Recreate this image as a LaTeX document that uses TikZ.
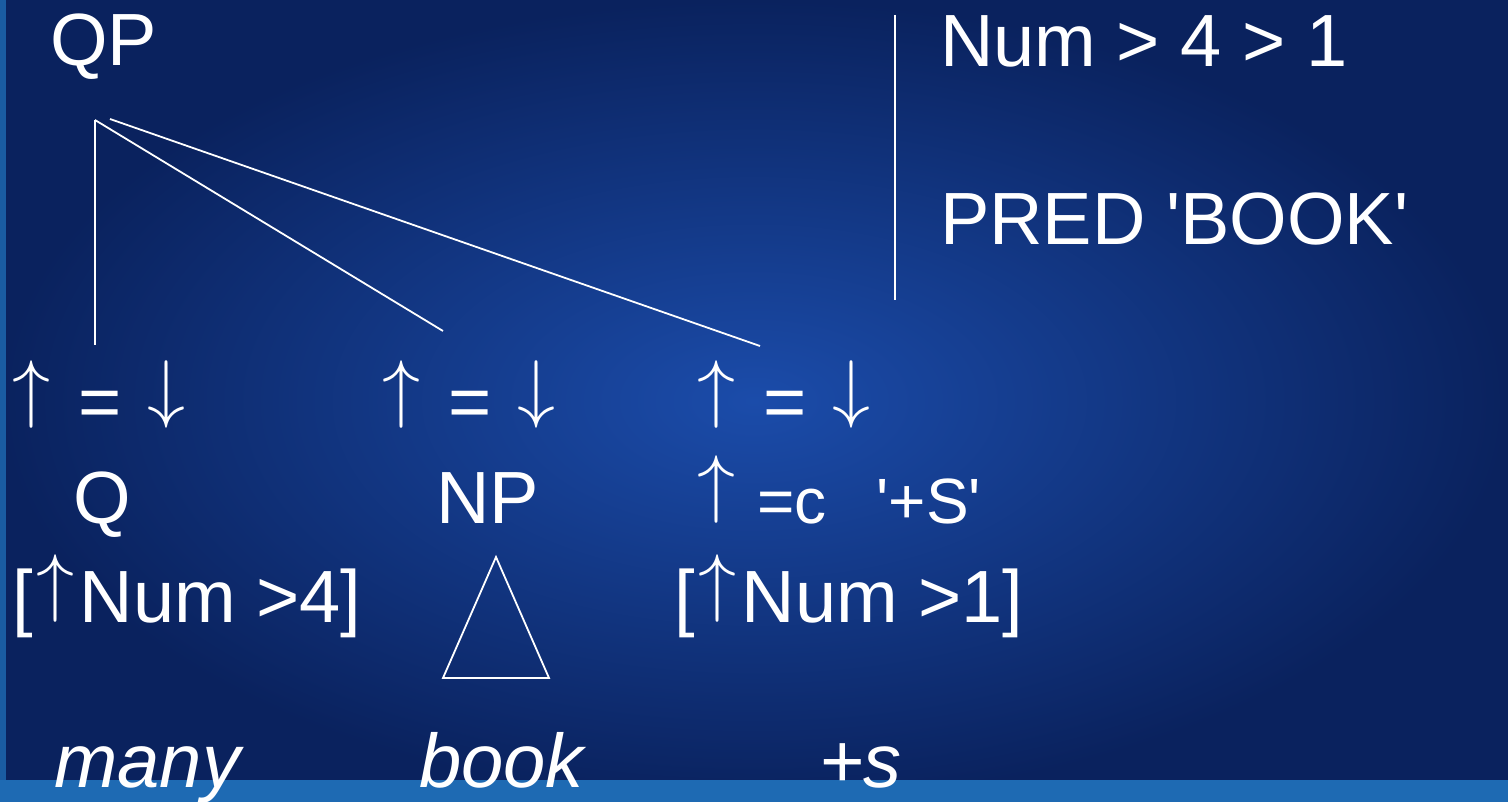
\documentclass[tikz,border=0pt]{standalone}
\usepackage{fontspec}
\setmainfont{Liberation Sans}
\usetikzlibrary{positioning}
\definecolor{bgdark}{HTML}{0A225E}
\definecolor{bglight}{HTML}{1B4CAA}
\definecolor{bgband}{HTML}{1E6AB3}
\newcommand{\sq}{\textquotesingle}
\newcommand{\upa}{\raisebox{14.7pt}{\scalebox{7.6}{\normalsize$\uparrow$}}}
\newcommand{\dna}{\raisebox{14.7pt}{\scalebox{7.6}{\normalsize$\downarrow$}}}

\begin{document}
\begin{tikzpicture}[x=1pt,y=-1pt,
    lbl/.style={text=white,inner sep=0pt,anchor=base west,font=\fontsize{74}{80}\selectfont},
    leaf/.style={lbl,font=\fontsize{76}{80}\selectfont\itshape},
    edge/.style={draw=white,line width=1.8pt}]
  \useasboundingbox (0,0) rectangle (1508,802);
  \fill[bgdark] (0,0) rectangle (1508,802);
  \shade[inner color=bglight,outer color=bgdark] (0,0) rectangle (1508,802);
  \fill[bgband] (0,780) rectangle (1508,802);
  \fill[bgband!80!bgdark] (0,0) rectangle (6,780);
  \node[lbl] (QP) at (50,66) {QP};
  \node[lbl] (num) at (940,67) {Num > 4 > 1};
  \node[lbl] (pred) at (940,245) {PRED \sq BOOK\sq};
  \node[lbl] (eq1) at (12,428) {\upa\hspace{28pt}=\hspace{26pt}\dna};
  \node[lbl] (eq2) at (382,428) {\upa\hspace{28pt}=\hspace{26pt}\dna};
  \node[lbl] (eq3) at (697,428) {\upa\hspace{28pt}=\hspace{26pt}\dna};
  \node[lbl] (Q) at (73,523) {Q};
  \node[lbl] (NP) at (436,523) {NP};
  \node[lbl] (cst) at (697,523) {\upa\hspace{22pt}{\fontsize{64}{70}\selectfont =c\hspace{50pt}\sq+S\sq}};
  \node[lbl] (fq) at (12,622) {[\hspace{4pt}\upa\hspace{5pt}Num >4]};
  \node[lbl] (fs) at (674,622) {[\hspace{4pt}\upa\hspace{5pt}Num >1]};
  \node[leaf] (many) at (54,787) {many};
  \node[leaf] (book) at (419,787) {book};
  \node[leaf] (pls) at (819,787) {+s};
  \coordinate (qpa) at (95,120);
  \coordinate (qpb) at (110,119);
  \coordinate (ea) at (95,345);
  \coordinate (eb) at (443,331);
  \coordinate (ec) at (760,346);
  \coordinate (sa) at (895,15);
  \coordinate (sb) at (895,300);
  \coordinate (tri) at (496,557);
  \draw[edge] (qpa) -- (ea);
  \draw[edge] (qpa) -- (eb);
  \draw[edge] (qpb) -- (ec);
  \draw[edge,line width=1.5pt] (sa) -- (sb);
  \draw[edge,line join=miter] (tri) -- (443,678) -- (549,678) -- cycle;
\end{tikzpicture}
\end{document}
